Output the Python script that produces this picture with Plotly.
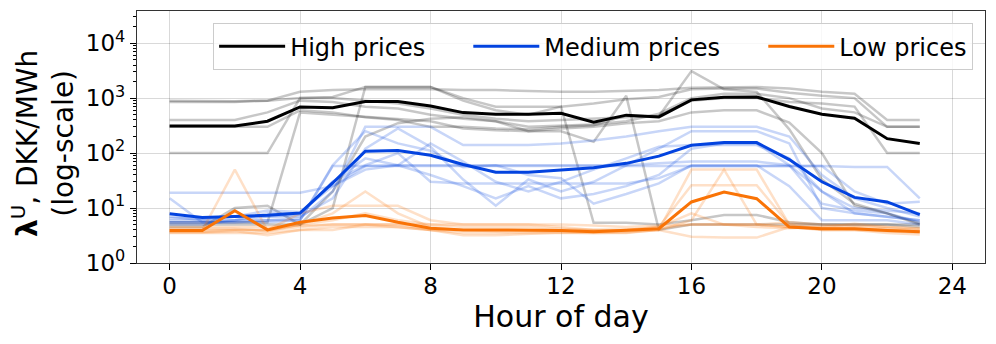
import plotly.graph_objects as go

hours = list(range(24))

# bold group lines
high_prices = [310, 310, 310, 380, 690, 670, 870, 870, 720, 545, 510, 510, 530, 365, 490, 455, 930, 1040, 1050, 705, 510, 430, 183, 150]
medium_prices = [7.9, 6.7, 7.0, 7.4, 8.1, 28.6, 108, 111, 91, 62, 45, 45, 49, 54, 65, 88, 139, 155, 155, 76, 30, 15.6, 12.9, 7.6]
low_prices = [3.9, 3.9, 8.9, 4.0, 5.5, 6.6, 7.3, 5.5, 4.3, 4.0, 4.0, 4.0, 3.9, 3.7, 3.9, 4.2, 12.9, 19.6, 14.8, 4.5, 4.2, 4.2, 3.9, 3.7]

# individual days (faded)
high_days = [
    [900, 880, 880, 900, 1300, 1400, 1450, 1450, 1450, 1400, 1400, 1350, 1300, 1300, 1350, 1400, 1550, 1600, 1600, 1500, 1300, 1200, 400, 400],
    [850, 850, 850, 900, 1000, 1050, 1600, 1600, 1600, 1000, 700, 700, 700, 800, 950, 1050, 1450, 1500, 1500, 1250, 1100, 1000, 300, 300],
    [400, 400, 400, 550, 900, 850, 700, 650, 500, 420, 380, 300, 310, 330, 380, 520, 1000, 1200, 1200, 1000, 650, 550, 300, 300],
    [100, 100, 100, 100, 1000, 1000, 900, 800, 650, 500, 420, 380, 400, 420, 450, 480, 900, 1000, 1000, 850, 800, 700, 100, 100],
    [5.5, 5.5, 5.5, 5.5, 550, 500, 450, 420, 380, 280, 260, 250, 280, 300, 350, 380, 550, 600, 600, 360, 100, 11, 8, 5.3],
    [5, 5, 5, 5, 5, 10, 1600, 1600, 1600, 900, 600, 500, 700, 5.4, 5.4, 5, 6, 7.5, 7.5, 5.5, 5, 5, 5, 5],
    [4.5, 4.5, 10, 11, 5, 20, 200, 350, 420, 450, 380, 250, 250, 160, 1100, 4, 5, 5, 5, 5, 5, 5, 5, 4.5],
    [300, 300, 300, 300, 600, 550, 450, 400, 300, 300, 280, 270, 300, 320, 480, 470, 3100, 1450, 1300, 270, 33, 12, 8, 5],
]
medium_days = [
    [19, 19, 19, 19, 19, 25, 58, 58, 58, 58, 58, 58, 58, 58, 58, 58, 58, 58, 58, 58, 58, 56, 56, 15],
    [15, 5.5, 5.5, 6, 6, 58, 58, 60, 60, 60, 60, 60, 60, 60, 60, 65, 70, 70, 70, 60, 20, 8, 7, 6],
    [6, 6, 6, 6, 6.5, 20, 300, 300, 300, 140, 140, 140, 150, 170, 200, 250, 300, 300, 300, 200, 40, 15, 10, 7],
    [5.5, 5.5, 6, 7, 7, 15, 120, 280, 130, 33, 11, 33, 20, 30, 60, 120, 250, 250, 250, 150, 10, 8, 7, 6],
    [5, 5, 6, 8, 8, 30, 80, 60, 40, 25, 15, 25, 15, 18, 25, 40, 120, 150, 150, 60, 12, 9, 8, 5.5],
    [6.5, 6.5, 7, 7, 7.5, 30, 60, 100, 30, 28, 28, 28, 28, 28, 28, 35, 58, 58, 58, 58, 58, 20, 12, 13],
    [5.5, 5.5, 5.5, 5.5, 6, 60, 250, 150, 110, 55, 60, 40, 35, 12, 18, 28, 60, 60, 60, 25, 6, 6, 6, 5],
    [7, 6, 7, 9, 8.5, 25, 50, 60, 150, 70, 30, 20, 30, 50, 80, 130, 140, 140, 140, 80, 20, 10, 9, 8],
]
low_days = [
    [3.9, 3.9, 50, 3.9, 4.5, 5, 5, 4.5, 4, 4, 4, 4, 4, 4, 4, 4.2, 5, 5, 5, 4.5, 4.3, 4.2, 4, 3.8],
    [3.7, 3.7, 4, 4, 5, 8, 20, 8, 4.5, 4, 3.8, 3.8, 3.8, 3.8, 3.8, 4, 6, 50, 5, 4.5, 4.2, 4.2, 4, 3.8],
    [4, 4, 4, 4, 8, 11, 11, 11, 6, 5, 5, 5, 4.5, 4, 4, 4.5, 26, 26, 26, 5, 4.5, 4.5, 4.2, 4],
    [3.5, 3.5, 3.5, 3.5, 4, 4, 5, 5, 4, 3.5, 3.5, 3.5, 3.5, 3.5, 3.5, 4, 50, 50, 50, 5, 4, 4, 3.8, 3.6],
    [4.2, 4.2, 4.2, 3.8, 5, 6, 8, 6, 5, 4.5, 4.5, 4.5, 4.2, 4, 4, 4.5, 8, 5, 5, 5.5, 5, 4.8, 4.5, 4.2],
    [3.6, 3.6, 3.8, 3.2, 4, 4.5, 4.5, 4.5, 4, 3.2, 3.2, 3.4, 3.6, 3.5, 3.6, 4, 3, 2.9, 2.9, 4.5, 4, 4, 3.5, 3.3],
    [4.5, 4.5, 4.5, 4.5, 4.8, 5, 5, 5, 5, 5, 5, 5, 5, 4.8, 4.5, 4.8, 5, 5, 4.5, 4.3, 4.5, 5.2, 4.5, 4.3],
]

x_ticks = [0, 4, 8, 12, 16, 20, 24]
y_ticks = [1, 10, 100, 1000, 10000]
y_ticklabels = ["10<sup>0</sup>", "10<sup>1</sup>", "10<sup>2</sup>", "10<sup>3</sup>", "10<sup>4</sup>"]
y_minor = [m * 10 ** k for k in range(5) for m in range(2, 10)]

BLACK = "#000000"
BLUE = "#0343df"
ORANGE = "#f97306"
PAD = "\u00a0" * 5  # widen the gap between legend entries

fig = go.Figure()

for days, rgb in [(high_days, "0,0,0"), (medium_days, "3,67,223"), (low_days, "249,115,6")]:
    for d in days:
        fig.add_trace(go.Scatter(
            x=hours, y=d, mode="lines",
            line=dict(color=f"rgba({rgb},0.22)", width=2.5),
            showlegend=False, hoverinfo="skip",
        ))

for vals, color, name in [(high_prices, BLACK, "High prices" + PAD),
                          (medium_prices, BLUE, "Medium prices" + PAD),
                          (low_prices, ORANGE, "Low prices")]:
    fig.add_trace(go.Scatter(
        x=hours, y=vals, mode="lines", name=name,
        line=dict(color=color, width=3),
    ))

# the page body adds an 8px margin, so the figure is 8px smaller and shifted
fig.update_layout(
    width=988, height=336,
    margin=dict(l=129, r=11, t=3, b=81),
    plot_bgcolor="white", paper_bgcolor="white",
    font=dict(family="DejaVu Sans", size=23, color="black"),
    legend=dict(
        orientation="h", x=0.986, xanchor="right", y=0.952, yanchor="top",
        bordercolor="#cccccc", borderwidth=1, bgcolor="rgba(255,255,255,0.8)",
        font=dict(size=24), traceorder="normal", itemwidth=66,
    ),
    annotations=[dict(
        text="<b>λ</b><sup>U</sup>, DKK/MWh<br>(log-scale)",
        xref="paper", yref="paper", x=-0.111, y=0.476,
        xanchor="center", yanchor="middle", textangle=-90,
        showarrow=False, font=dict(size=28),
    )],
)

fig.update_xaxes(
    range=[-1, 25], tickvals=x_ticks, ticks="outside", ticklen=6, tickcolor="black",
    ticklabelstandoff=-4,
    showgrid=True, gridcolor="rgba(0,0,0,0.15)", gridwidth=1, automargin=False,
    showline=True, linecolor="#333333", linewidth=1.2, mirror=True, zeroline=False,
    title=dict(text="Hour of day", font=dict(size=30), standoff=2),
)
fig.update_yaxes(
    type="log", range=[0, 4.585], tickvals=y_ticks, ticktext=y_ticklabels,
    ticks="outside", ticklen=6, tickcolor="black", automargin=False,
    minor=dict(tickvals=y_minor, ticks="outside", ticklen=3, tickcolor="black", showgrid=False),
    showgrid=True, gridcolor="rgba(0,0,0,0.15)", gridwidth=1,
    showline=True, linecolor="#333333", linewidth=1.2, mirror=True, zeroline=False,
)

fig.write_html("out.html")
